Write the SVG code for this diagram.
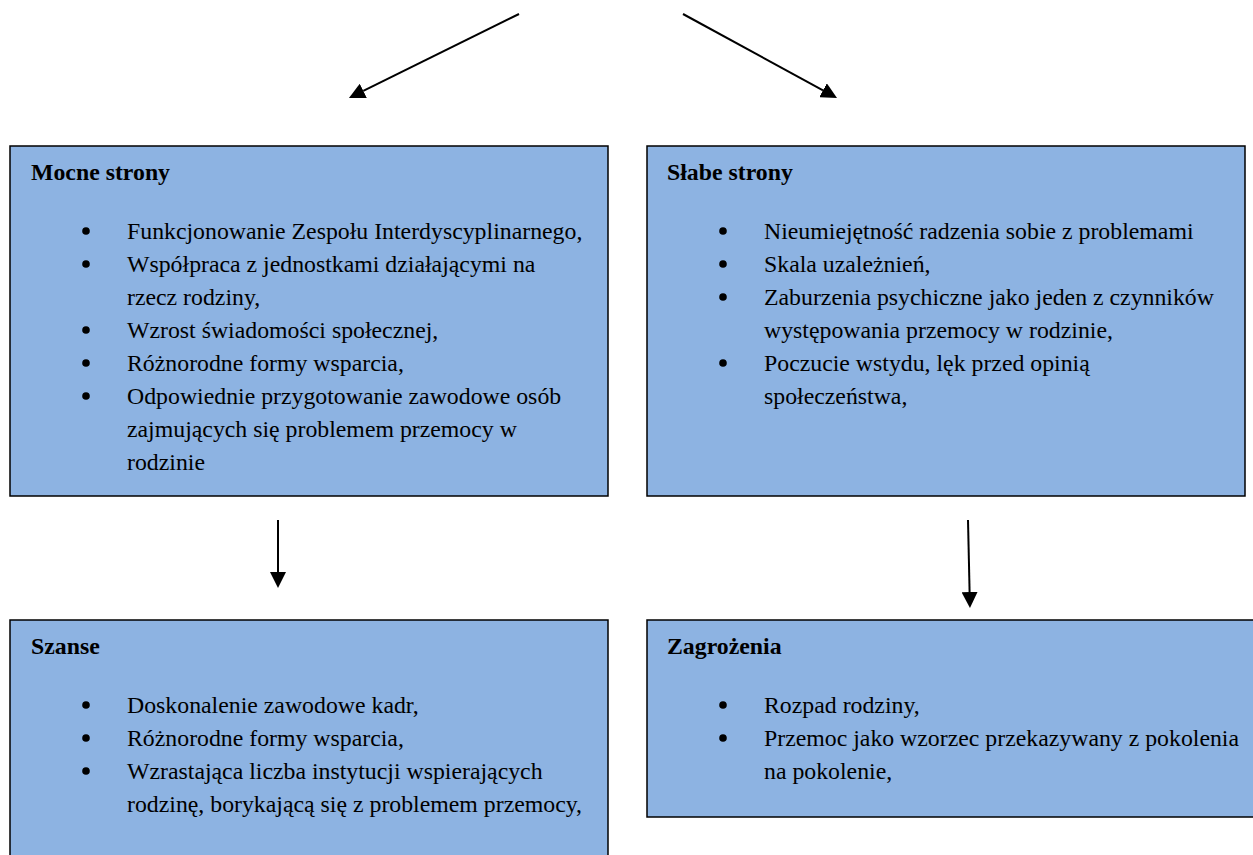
<svg xmlns="http://www.w3.org/2000/svg" width="1253" height="855" viewBox="0 0 1253 855">
<style>
  .box { fill: #8DB3E2; stroke: #000; stroke-width: 1.5; }
  .t { font-family: "Liberation Serif", "Times New Roman", serif; font-size: 23.8px; fill: #000; }
  .h { font-weight: bold; }
  .bul { fill: #000; }
  .conn { stroke: #000; stroke-width: 2; fill: none; marker-end: url(#arr); }
</style>
<defs>
  <marker id="arr" markerUnits="userSpaceOnUse" markerWidth="16" markerHeight="16" refX="0" refY="8" orient="auto">
    <path d="M0,0 L16,8 L0,16 z" fill="#000"/>
  </marker>
</defs>
<rect width="1253" height="855" fill="#fff"/>
<g id="connectors">
  <line class="conn" x1="519" y1="14" x2="363.3" y2="90.9"/>
  <line class="conn" x1="683" y1="14" x2="823" y2="90.3"/>
  <line class="conn" x1="278" y1="520" x2="278" y2="572"/>
  <line class="conn" x1="968" y1="520" x2="969.6" y2="592"/>
</g>
<g id="mocne">
  <rect class="box" x="10" y="146" width="598" height="350"/>
  <text class="t h" x="31" y="180">Mocne strony</text>
  <circle class="bul" cx="86" cy="231" r="3.8"/>
  <circle class="bul" cx="86" cy="264" r="3.8"/>
  <circle class="bul" cx="86" cy="330" r="3.8"/>
  <circle class="bul" cx="86" cy="363" r="3.8"/>
  <circle class="bul" cx="86" cy="396" r="3.8"/>
  <text class="t" x="127" y="239">Funkcjonowanie Zespołu Interdyscyplinarnego,</text>
  <text class="t" x="127" y="272">Współpraca z jednostkami działającymi na</text>
  <text class="t" x="127" y="305">rzecz rodziny,</text>
  <text class="t" x="127" y="338">Wzrost świadomości społecznej,</text>
  <text class="t" x="127" y="371">Różnorodne formy wsparcia,</text>
  <text class="t" x="127" y="404">Odpowiednie przygotowanie zawodowe osób</text>
  <text class="t" x="127" y="437">zajmujących się problemem przemocy w</text>
  <text class="t" x="127" y="470">rodzinie</text>
</g>
<g id="slabe">
  <rect class="box" x="647" y="146" width="598" height="350"/>
  <text class="t h" x="667" y="180">Słabe strony</text>
  <circle class="bul" cx="723" cy="231" r="3.8"/>
  <circle class="bul" cx="723" cy="264" r="3.8"/>
  <circle class="bul" cx="723" cy="297" r="3.8"/>
  <circle class="bul" cx="723" cy="363" r="3.8"/>
  <text class="t" x="764" y="239">Nieumiejętność radzenia sobie z problemami</text>
  <text class="t" x="764" y="272">Skala uzależnień,</text>
  <text class="t" x="764" y="305">Zaburzenia psychiczne jako jeden z czynników</text>
  <text class="t" x="764" y="338">występowania przemocy w rodzinie,</text>
  <text class="t" x="764" y="371">Poczucie wstydu, lęk przed opinią</text>
  <text class="t" x="764" y="404">społeczeństwa,</text>
</g>
<g id="szanse">
  <rect class="box" x="10" y="620" width="598" height="260"/>
  <text class="t h" x="31" y="654">Szanse</text>
  <circle class="bul" cx="86" cy="705" r="3.8"/>
  <circle class="bul" cx="86" cy="738" r="3.8"/>
  <circle class="bul" cx="86" cy="771" r="3.8"/>
  <text class="t" x="127" y="713">Doskonalenie zawodowe kadr,</text>
  <text class="t" x="127" y="746">Różnorodne formy wsparcia,</text>
  <text class="t" x="127" y="779">Wzrastająca liczba instytucji wspierających</text>
  <text class="t" x="127" y="812">rodzinę, borykającą się z problemem przemocy,</text>
</g>
<g id="zagrozenia">
  <rect class="box" x="647" y="620" width="620" height="197"/>
  <text class="t h" x="667" y="654">Zagrożenia</text>
  <circle class="bul" cx="723" cy="705" r="3.8"/>
  <circle class="bul" cx="723" cy="738" r="3.8"/>
  <text class="t" x="764" y="713">Rozpad rodziny,</text>
  <text class="t" x="764" y="746">Przemoc jako wzorzec przekazywany z pokolenia</text>
  <text class="t" x="764" y="779">na pokolenie,</text>
</g>
</svg>
